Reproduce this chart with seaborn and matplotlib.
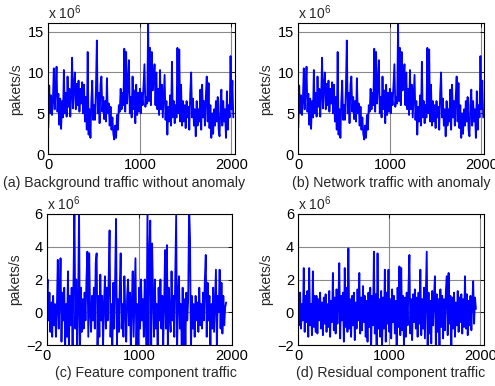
import numpy as np
import pandas as pd
import seaborn as sns
from matplotlib import pyplot as plt

# values, one every 10 samples
step = 10

background = [
    3.2, 8.4, 5.0, 7.2, 4.8, 6.5, 10.5, 5.5, 7.8, 10.7,
    5.2, 7.4, 3.6, 6.8, 3.1, 6.5, 4.5, 10.3, 5.0, 7.5,
    4.6, 9.5, 5.8, 8.0, 4.6, 7.2, 11.8, 5.6, 8.4, 10.0,
    5.5, 8.6, 6.0, 9.0, 5.2, 8.0, 6.2, 8.8, 5.0, 8.5,
    4.0, 7.0, 3.0, 12.5, 2.4, 5.5, 2.0, 6.5, 9.0, 4.2,
    6.0, 4.2, 8.0, 13.9, 5.0, 7.5, 3.8, 8.5, 9.5, 5.2,
    7.0, 4.3, 6.5, 4.0, 9.3, 5.0, 6.2, 3.5, 5.8, 3.0,
    4.5, 2.5, 1.8, 3.5, 2.0, 4.8, 3.0, 6.0, 5.2, 8.0,
    5.5, 7.5, 6.0, 12.9, 5.2, 12.5, 6.2, 8.5, 11.5, 5.0,
    7.0, 4.5, 9.5, 5.5, 7.8, 3.8, 8.5, 4.8, 7.5, 5.2,
    8.0, 5.0, 7.5, 6.0, 8.5, 11.0, 5.8, 7.0, 6.2, 16.0,
    6.5, 13.0, 6.0, 12.5, 7.8, 9.0, 11.0, 6.0, 10.0, 5.5,
    8.0, 4.8, 10.3, 5.5, 8.5, 4.5, 7.0, 9.7, 4.2, 6.5,
    2.4, 5.8, 4.0, 7.2, 3.5, 11.3, 4.5, 6.5, 3.8, 6.0,
    4.5, 13.0, 5.0, 12.8, 4.0, 8.5, 3.5, 6.5, 4.0, 6.0,
    3.2, 6.5, 4.5, 5.8, 3.0, 7.5, 10.0, 4.5, 6.8, 3.5,
    5.5, 2.2, 6.5, 3.5, 5.5, 4.0, 7.9, 3.0, 8.5, 4.5,
    6.5, 3.5, 7.0, 9.5, 4.0, 8.7, 3.2, 6.0, 2.0, 5.0,
    2.5, 5.5, 3.5, 6.5, 4.0, 7.0, 3.0, 2.2, 6.0, 7.9,
    3.5, 6.5, 4.0, 5.5, 2.0, 7.7, 3.0, 6.0, 4.5, 12.0,
    5.5, 9.0, 4.5,
]

# traffic with anomaly looks the same as the background at this scale
network = background

feature = [
    0.8, 2.0, -0.5, 1.2, -1.2, 0.6, -1.5, 1.0, -0.8, 0.5,
    -1.5, 0.2, 3.2, -1.0, 0.8, 3.3, -1.8, 1.2, -0.5, 1.5,
    -2.0, 0.5, -1.5, 2.5, -2.0, 1.0, -0.8, 1.5, -2.0, 2.0,
    6.5, -1.0, 2.0, -2.5, 0.5, 6.5, -2.5, 1.5, -1.2, 0.8,
    -1.0, 1.2, -0.5, 2.0, 3.7, -1.5, 3.6, 0.0, -1.2, 1.0,
    -0.5, 1.5, -1.0, 3.0, 3.6, -2.0, 1.0, -1.5, 2.3, -0.5,
    1.0, -2.0, 0.5, 2.2, -1.0, 1.5, -0.5, 2.0, 5.0, -1.5,
    0.5, -2.5, 1.8, -1.0, 2.0, 5.7, -2.0, 0.8, -1.2, 1.5,
    3.6, -1.0, 0.5, -1.5, 2.2, 0.0, -1.8, 1.0, 2.0, -0.8,
    1.2, -2.5, 0.5, 2.5, -1.5, 1.0, 3.3, -2.5, 0.5, -2.0,
    1.5, -1.0, 2.0, -0.5, 0.8, -1.5, 2.0, 0.5, -2.2, 6.5,
    -2.5, 3.5, 5.6, -2.0, 4.2, 1.0, -1.5, 2.0, -1.0, 0.5,
    -2.2, 1.5, -0.5, 2.0, -1.0, 1.0, -2.0, 0.5, 3.8, -1.0,
    4.1, -2.0, 1.5, 0.0, -1.2, 2.5, -0.5, 1.0, -1.5, 2.2,
    5.9, -2.5, 1.0, 2.2, -1.0, 0.5, -2.0, 1.5, -2.2, 0.8,
    -2.0, 1.2, -0.5, 0.8, 6.5, 4.5, -2.5, 1.0, -1.0, 0.5,
    -1.5, 1.0, -0.5, 0.6, -1.2, 1.5, -0.8, 0.5, -1.0, 1.2,
    -0.5, 2.0, 3.5, -1.5, 1.8, -0.5, 1.0, -2.0, 0.5, -1.0,
    1.5, -1.2, 0.8, 2.6, -2.2, 1.0, 0.0, 2.6, -1.0, 1.8,
    -1.3, 1.0, -0.8, 0.3, 0.6,
]

residual = [
    0.8, -0.8, 1.2, -1.0, 0.5, -0.5, 2.7, -1.2, 1.0, -0.6,
    1.3, -1.5, 2.7, -0.8, 0.5, -1.4, 2.5, -0.9, 1.0, -1.2,
    1.0, -1.3, 0.8, -0.5, 1.2, -1.0, 0.6, -1.4, 0.9, -0.7,
    1.1, -1.2, 0.5, -0.9, 1.3, -1.5, 0.7, -0.6, 2.4, -1.1,
    0.9, -1.3, 1.4, -0.7, 0.6, 3.0, -1.6, 1.0, -0.5, 1.2,
    -1.8, 2.7, -0.9, 1.5, -1.2, 3.9, -1.0, 0.8, -1.5, 1.0,
    -0.8, 1.2, -1.7, 0.6, -1.0, 1.4, -0.5, 2.4, -1.3, 0.9,
    -1.1, 1.6, -0.6, 1.0, -1.5, 0.7, -1.8, 1.2, -0.9, 1.5,
    -2.2, 1.0, -0.8, 3.7, -1.3, 1.1, -2.0, 3.6, -1.0, 0.8,
    -1.5, 1.3, -2.2, 0.9, -1.0, 2.6, -1.8, 1.2, -0.7, 2.6,
    -1.2, 0.8, -1.6, 1.4, -0.6, 1.0, -1.3, 0.7, -2.3, 1.5,
    -0.9, 2.8, -1.4, 2.7, -1.1, 1.0, -2.2, 0.9, -1.5, 1.2,
    -0.8, 1.6, 3.5, -1.3, 0.8, -1.7, 1.1, -0.6, 1.4, -1.0,
    0.9, -1.5, 1.2, -0.7, 2.6, -1.4, 0.8, -1.0, 1.5, -1.6,
    1.0, 3.7, -2.2, 1.2, -1.3, 0.7, -1.9, 1.3, -0.8, 1.0,
    2.2, -2.0, 1.1, -1.2, 0.8, -2.3, 1.4, -0.9, 1.0, -1.6,
    0.8, -1.1, 1.3, 2.2, -1.4, 2.4, -0.7, 1.0, -2.2, 0.9,
    -1.0, 1.2, -1.5, 0.6, -0.8, 1.3, -1.2, 0.9, -0.6, 1.1,
    -1.3, 0.8, -0.9, 2.2, -1.0, 1.1, -1.4, 0.7, -0.8, 1.0,
    -1.1, 0.6, 1.9, -0.7, 0.9, 0.2,
]

captions = ['(a) Background traffic without anomaly',
            '(b) Network traffic with anomaly',
            '(c) Feature component traffic',
            '(d) Residual component traffic']

sns.set_theme(style='white')
plt.rcParams['font.family'] = ['Liberation Sans', 'DejaVu Sans']
plt.rcParams['mathtext.fontset'] = 'custom'
plt.rcParams['mathtext.rm'] = 'Liberation Sans'

fig = plt.figure(figsize=(4.95, 3.86), dpi=100)

# [left, bottom, width, height], xlim, ylim, yticks, caption x/y in pixels
panels = [
    (background, [0.0976, 0.6003, 0.3774, 0.3393], 2040, (0, 16), [0, 5, 10, 15], (124, 183)),
    (network, [0.6026, 0.6003, 0.3754, 0.3393], 2030, (0, 16), [0, 5, 10, 15], (391, 183)),
    (feature, [0.0943, 0.1062, 0.3737, 0.3394], 2000, (-2, 6), [-2, 0, 2, 4, 6], (146, 373)),
    (residual, [0.6026, 0.1062, 0.3745, 0.3394], 2035, (-2, 6), [-2, 0, 2, 4, 6], (391, 373)),
]

for (vals, pos, xmax, ylim, yticks, cap), caption in zip(panels, captions):
    ax = fig.add_axes(pos)
    df = pd.DataFrame({'t': np.arange(len(vals)) * step, 'v': vals})
    sns.lineplot(data=df, x='t', y='v', ax=ax, color=(0, 0, 1), linewidth=1.3)
    ax.set_xlim(0, xmax)
    ax.set_ylim(*ylim)
    ax.set_xticks([0, 1000, 2000])
    ax.set_yticks(yticks)
    ax.grid(True, color='#8a8a8a', linewidth=0.8)
    ax.tick_params(direction='in', top=True, right=True, length=3, width=0.6,
                   labelsize=10.5, pad=3, colors='black')
    for sp in ax.spines.values():
        sp.set_color('black')
        sp.set_linewidth(0.8)
    ax.set_xlabel('')
    ax.set_ylabel('pakets/s', fontsize=10, labelpad=3)
    ax.text(0, 1.01, r'x 10$^{\mathregular{6}}$', transform=ax.transAxes,
            fontsize=10, ha='left', va='bottom')
    fig.text(cap[0] / 495, 1 - cap[1] / 386, caption, ha='center', va='center', fontsize=10.2)

fig.savefig('out.png', dpi=100)
